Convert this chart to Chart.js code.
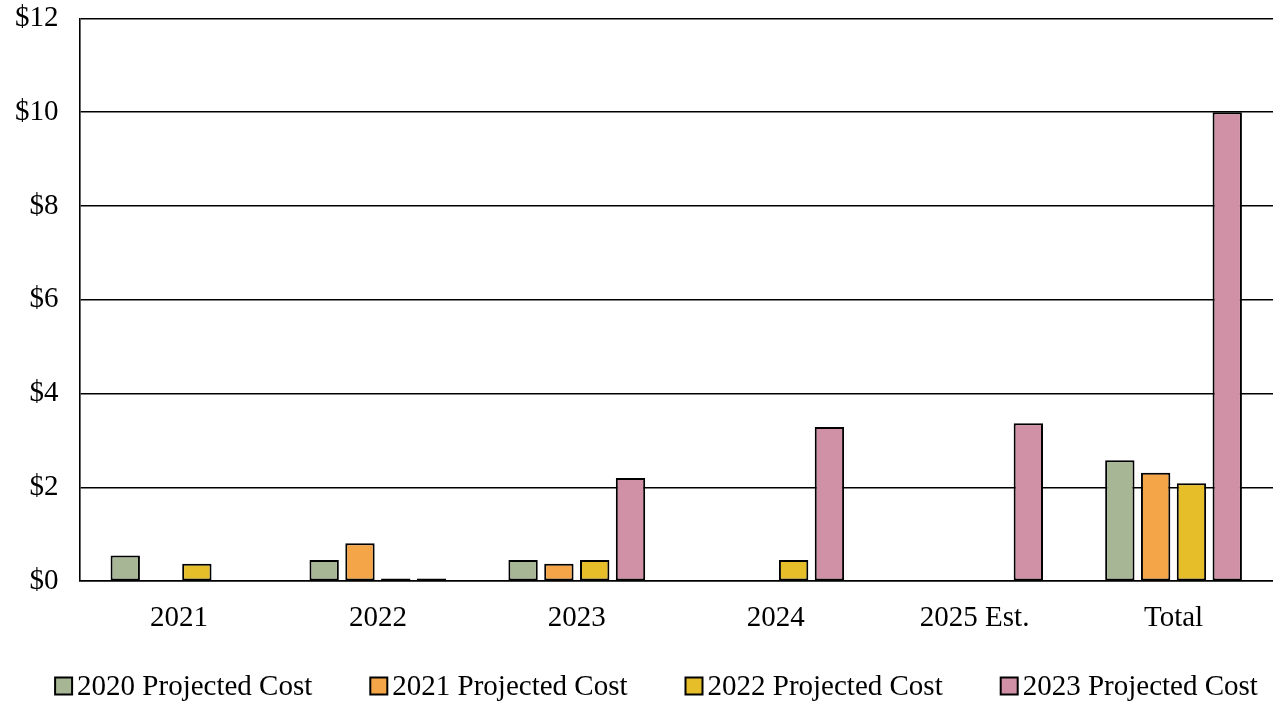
<!DOCTYPE html>
<html><head><meta charset="utf-8">
<script src="https://cdn.jsdelivr.net/npm/chart.js@4"></script>
<style>html,body{margin:0;padding:0;background:#fff;overflow:hidden}#outer{width:1273px;height:702px;position:relative;overflow:hidden}#wrap{width:1273px;height:722px;position:absolute;left:0;top:-20px}</style>
</head><body><div id="outer"><div id="wrap"><canvas id="c"></canvas></div></div>
<script>
const categories = ["2021","2022","2023","2024","2025 Est.","Total"];
const cost2020 = [0.55, 0.45, 0.45, null, null, 2.58];
const cost2021 = [null, 0.81, 0.37, null, null, 2.31];
const cost2022 = [0.37, 0.06, 0.45, 0.45, null, 2.09];
const cost2023 = [null, 0.06, 2.2, 3.29, 3.37, 10.0];
const seriesNames = ["2020 Projected Cost","2021 Projected Cost","2022 Projected Cost","2023 Projected Cost"];
const colors = ["#A7B694","#F4A547","#E6BE2A","#D091A6"];
const yTicks = [0,2,4,6,8,10,12];

const font = "'Liberation Serif','Times New Roman',serif";
const FS = 29;

const customLegend = {
  id: 'customLegend',
  afterDraw(chart) {
    const ctx = chart.ctx;
    ctx.save();
    ctx.font = FS + 'px ' + font;
    ctx.textBaseline = 'middle';
    ctx.textAlign = 'left';
    const box = 17, gap = 5, spacing = 58;
    const items = chart.data.datasets.map(ds => ({label: ds.label, color: ds.backgroundColor, w: box + gap + ctx.measureText(ds.label).width}));
    const total = items.reduce((s, it) => s + it.w, 0) + spacing * (items.length - 1);
    let x = (chart.width - total) / 2 + 20;
    const y = 706;
    items.forEach(it => {
      ctx.fillStyle = it.color;
      ctx.fillRect(x, y - box / 2, box, box);
      ctx.strokeStyle = '#000';
      ctx.lineWidth = 2;
      ctx.strokeRect(x, y - box / 2, box, box);
      ctx.fillStyle = '#000';
      ctx.fillText(it.label, x + box + gap, y + 1);
      x += it.w + spacing;
    });
    ctx.restore();
  }
};

const data = {
  labels: categories,
  datasets: [cost2020,cost2021,cost2022,cost2023].map((d,i)=>({
    label: seriesNames[i], data: d, backgroundColor: colors[i],
    borderColor: "#000", borderWidth: 2, borderSkipped: false,
    barPercentage: 0.82, categoryPercentage: 0.72
  }))
};
new Chart(document.getElementById('c'), {
  type: 'bar', data,
  plugins: [customLegend],
  options: {
    responsive: true, maintainAspectRatio: false, animation: false,
    layout: {padding: {top: 0, right: 0, left: -6, bottom: 46}},
    plugins: {
      tooltip: {enabled: false},
      legend: {display: false}
    },
    scales: {
      x: {grid: {display: false, drawTicks: false}, border: {color: '#000', width: 1.6},
          ticks: {font: {family: font, size: FS}, color: '#000', padding: 20}},
      y: {min: 0, max: 12, afterBuildTicks: ax => { ax.ticks = yTicks.map(v=>({value:v})); },
          grid: {color: '#000', lineWidth: 1.6, drawTicks: false}, border: {color: '#000', width: 1.6},
          ticks: {font: {family: font, size: FS}, color: '#000', padding: 21, callback: v => '$' + v}}
    }
  }
});
</script></body></html>
